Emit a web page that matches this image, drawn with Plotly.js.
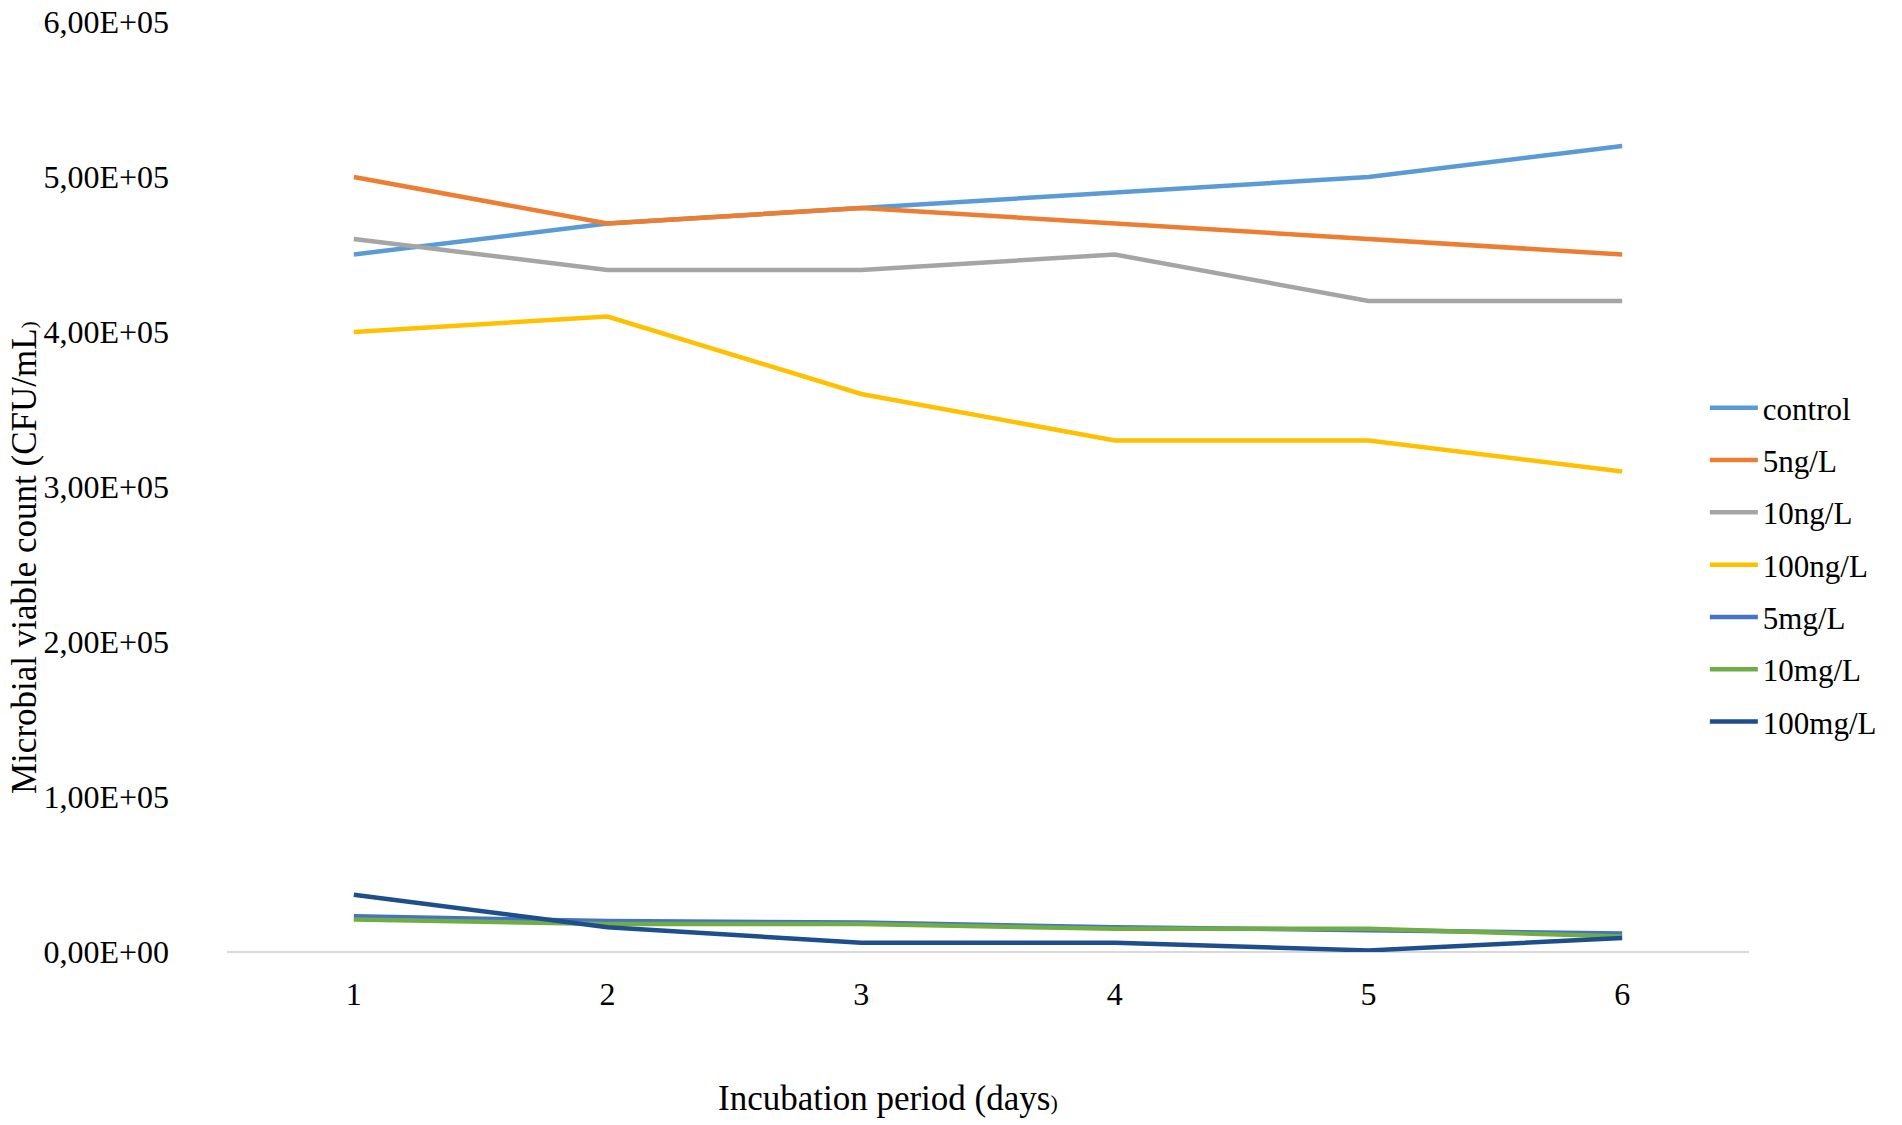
<!DOCTYPE html>
<html>
<head>
<meta charset="utf-8">
<script src="https://cdn.plot.ly/plotly-3.0.1.min.js"></script>
<style>
  html, body { margin: 0; padding: 0; background: #fff; }
  #chart { width: 1902px; height: 1125px; }
</style>
</head>
<body>
<div id="chart"></div>
<script>
// incubation days
const days = ['1', '2', '3', '4', '5', '6'];

// microbial viable count (CFU/mL)
const control = [450000, 470000, 480000, 490000, 500000, 520000];
const ng5 = [500000, 470000, 480000, 470000, 460000, 450000];
const ng10 = [460000, 440000, 440000, 450000, 420000, 420000];
const ng100 = [400000, 410000, 360000, 330000, 330000, 310000];
const mg5 = [23000, 20000, 19000, 16000, 14000, 12000];
const mg10 = [21000, 18000, 18000, 15000, 15000, 10000];
const mg100 = [37000, 16000, 6000, 6000, 1000, 9000];

const seriesNames = ['control', '5ng/L', '10ng/L', '100ng/L', '5mg/L', '10mg/L', '100mg/L'];
const seriesValues = [control, ng5, ng10, ng100, mg5, mg10, mg100];
const seriesColors = ['#5b9bd5', '#ed7d31', '#a5a5a5', '#ffc000', '#4472c4', '#70ad47', '#1f4e8c'];

const yTickVals = [0, 100000, 200000, 300000, 400000, 500000, 600000];
const yTickText = ['0,00E+00', '1,00E+05', '2,00E+05', '3,00E+05', '4,00E+05', '5,00E+05', '6,00E+05'];

const serif = 'Liberation Serif, Times New Roman, serif';

let traces = seriesNames.map((name, i) => ({
    x: days,
    y: seriesValues[i],
    name: name,
    type: 'scatter',
    mode: 'lines',
    legendgroup: 'g' + i,
    line: { color: seriesColors[i], width: 4.5 }
}));

let layout = {
    width: 1902,
    height: 1125,
    margin: { l: 227, r: 153, t: 22, b: 173 },
    paper_bgcolor: '#fff',
    plot_bgcolor: '#fff',
    font: { family: serif, size: 32, color: '#000' },
    showlegend: true,
    legend: {
        x: 0.971, xanchor: 'left',
        y: 0.416, yanchor: 'middle',
        traceorder: 'grouped',
        tracegroupgap: 9,
        itemwidth: 48,
        font: { family: serif, size: 31, color: '#000' },
        bgcolor: 'rgba(0,0,0,0)'
    },
    xaxis: {
        type: 'category',
        range: [-0.5, 5.5],
        showgrid: false,
        showline: false,
        zeroline: false,
        ticks: '',
        ticklabelstandoff: 20,
        tickfont: { family: serif, size: 32, color: '#000' }
    },
    yaxis: {
        range: [0, 600000],
        tickvals: yTickVals,
        ticktext: yTickText,
        showgrid: false,
        zeroline: true,
        zerolinecolor: '#d9d9d9',
        zerolinewidth: 2,
        showline: false,
        ticks: '',
        ticklabelstandoff: 57,
        tickfont: { family: serif, size: 32, color: '#000' }
    },
    annotations: [
        {
            text: 'Incubation period (days<span style="font-size:22px">)</span>',
            xref: 'paper', yref: 'paper',
            x: (888 - 227) / 1522, y: -146 / 930,
            xanchor: 'center', yanchor: 'middle',
            showarrow: false,
            font: { family: serif, size: 35, color: '#000' }
        },
        {
            text: 'Microbial viable count (CFU/mL<span style="font-size:22px">)</span>',
            xref: 'paper', yref: 'paper',
            x: -203 / 1522, y: (952 - 558) / 930,
            xanchor: 'center', yanchor: 'middle',
            textangle: -90,
            showarrow: false,
            font: { family: serif, size: 35, color: '#000' }
        }
    ]
};

Plotly.newPlot('chart', traces, layout, { displayModeBar: false, staticPlot: true });
</script>
</body>
</html>
